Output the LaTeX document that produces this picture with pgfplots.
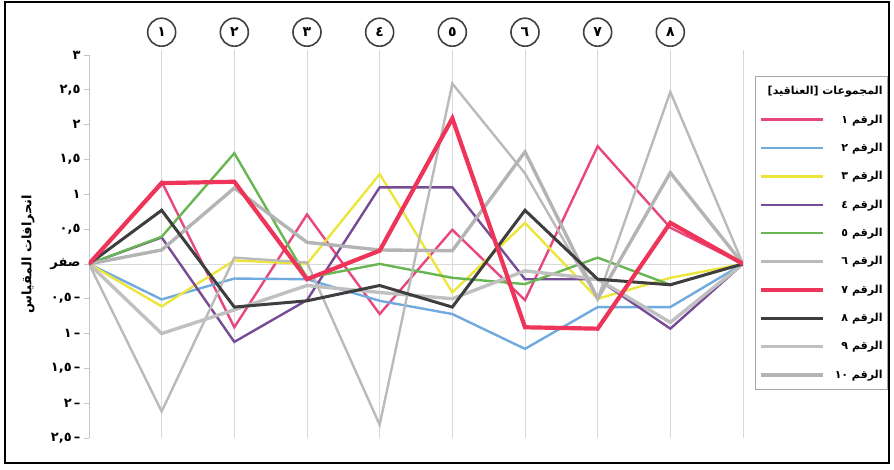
\documentclass[border=0pt]{standalone}
\usepackage{pgfplots}
\pgfplotsset{compat=1.18}
\usepackage{fontspec}
\setmainfont{DejaVu Sans}
\newfontfamily\arabicfont[Script=Arabic]{DejaVu Sans}
\TeXXeTstate=1
\definecolor{cA}{RGB}{232,70,128}
\definecolor{cB}{RGB}{112,170,222}
\definecolor{cC}{RGB}{236,230,60}
\definecolor{cD}{RGB}{118,76,150}
\definecolor{cE}{RGB}{104,182,82}
\definecolor{cF}{RGB}{186,186,186}
\definecolor{cG}{RGB}{238,52,88}
\definecolor{cH}{RGB}{62,62,62}
\definecolor{cI}{RGB}{192,192,192}
\definecolor{cJ}{RGB}{180,180,180}
\pgfplotsset{
  s1/.style={cA, line width=2.4pt},
  s2/.style={cB, line width=2.4pt},
  s3/.style={cC, line width=2.4pt},
  s4/.style={cD, line width=2.4pt},
  s5/.style={cE, line width=2.4pt},
  s6/.style={cF, line width=2.4pt},
  s7/.style={cG, line width=4.2pt},
  s8/.style={cH, line width=3pt},
  s9/.style={cI, line width=3.4pt},
  s10/.style={cJ, line width=3.4pt},
}
\pgfplotstableread{
x s1 s2 s3 s4 s5 s6 s7 s8 s9 s10
0 0 0 0 0 0 0 0 0 0 0
1 1.18 -0.51 -0.61 0.38 0.39 -2.12 1.16 0.77 -1.00 0.20
2 -0.91 -0.21 0.05 -1.12 1.59 0.09 1.18 -0.62 -0.66 1.09
3 0.71 -0.22 0.00 -0.52 -0.20 0.02 -0.22 -0.53 -0.31 0.31
4 -0.72 -0.53 1.29 1.10 0.00 -2.31 0.19 -0.31 -0.41 0.20
5 0.49 -0.72 -0.41 1.10 -0.20 2.59 2.09 -0.62 -0.50 0.19
6 -0.52 -1.22 0.59 -0.22 -0.29 1.30 -0.91 0.77 -0.10 1.61
7 1.69 -0.62 -0.50 -0.22 0.09 -0.50 -0.93 -0.22 -0.22 -0.50
8 0.52 -0.62 -0.20 -0.93 -0.30 2.47 0.59 -0.30 -0.84 1.31
9 0 0 0 0 0 0 0 0 0 0
}\datatable
\newcommand{\af}{\arabicfont\bfseries}
\begin{document}
\begin{tikzpicture}
\useasboundingbox (-89pt,-32pt) rectangle (805pt,438pt);
\draw[line width=2.5pt] (-84pt,-25pt) rectangle (800pt,436pt);
\begin{axis}[
  at={(0pt,0pt)}, anchor=south west,
  scale only axis, width=654pt, height=383pt,
  xmin=0, xmax=9, ymin=-2.5, ymax=3,
  axis y line*=left, axis x line*=top,
  x axis line style={draw=none},
  y axis line style={draw=gray!45, line width=0.8pt},
  tick align=outside, major tick length=5pt,
  xtick={1,2,3,4,5,6,7,8},
  xticklabels={\af ١,\af ٢,\af ٣,\af ٤,\af ٥,\af ٦,\af ٧,\af ٨},
  xticklabel style={circle, draw=black!75, line width=1.6pt, minimum size=28pt, inner sep=0pt, font=\af\fontsize{14}{16}\selectfont, anchor=south, yshift=3pt},
  xtick style={draw=gray!35, line width=0.8pt},
  xmajorgrids,
  grid style={gray!30, line width=0.8pt},
  extra x ticks={9}, extra x tick labels={},
  extra x tick style={grid=major, xticklabel style={draw=none}},
  ytick={-2.5,-2,-1.5,-1,-0.5,0,0.5,1,1.5,2,2.5,3},
  yticklabels={{٢,٥\,–},{٢\,–},{١,٥\,–},{١\,–},{٠,٥\,–},{\beginR صفر\endR},{٠,٥},{١},{١,٥},{٢},{٢,٥},{٣}},
  yticklabel style={font=\af\fontsize{13}{15}\selectfont},
  ytick style={draw=gray!45, line width=0.8pt},
  extra y ticks={0}, extra y tick labels={},
  extra y tick style={grid=major, major tick length=0pt},
  ylabel={\beginR انحرافات المقياس\endR},
  ylabel style={font=\af\fontsize{13}{15}\selectfont, anchor=center, at={(axis description cs:-0.0933,0.48)}},
  legend style={at={(axis description cs:1.2217,0.9452)}, anchor=north east, draw=gray!70, line width=0.8pt, fill=white, font=\af\fontsize{11}{13}\selectfont, row sep=14.5pt, column sep=8pt, inner xsep=3pt, inner ysep=8pt},
  legend cell align=right,
  legend image code/.code={\draw[#1] (0pt,0pt) -- (62pt,0pt);},
]
\addlegendimage{empty legend}\addlegendentry{\makebox[0pt][r]{[العناقيد] المجموعات}}
\addlegendimage{s1}\addlegendentry{\beginR الرقم \beginL١\endL\endR}
\addlegendimage{s2}\addlegendentry{\beginR الرقم \beginL٢\endL\endR}
\addlegendimage{s3}\addlegendentry{\beginR الرقم \beginL٣\endL\endR}
\addlegendimage{s4}\addlegendentry{\beginR الرقم \beginL٤\endL\endR}
\addlegendimage{s5}\addlegendentry{\beginR الرقم \beginL٥\endL\endR}
\addlegendimage{s6}\addlegendentry{\beginR الرقم \beginL٦\endL\endR}
\addlegendimage{s7}\addlegendentry{\beginR الرقم \beginL٧\endL\endR}
\addlegendimage{s8}\addlegendentry{\beginR الرقم \beginL٨\endL\endR}
\addlegendimage{s9}\addlegendentry{\beginR الرقم \beginL٩\endL\endR}
\addlegendimage{s10}\addlegendentry{\rule[-13pt]{0pt}{0pt}\beginR الرقم \beginL١٠\endL\endR}
\addplot[s1, forget plot] table[x=x, y=s1] {\datatable};
\addplot[s2, forget plot] table[x=x, y=s2] {\datatable};
\addplot[s3, forget plot] table[x=x, y=s3] {\datatable};
\addplot[s4, forget plot] table[x=x, y=s4] {\datatable};
\addplot[s5, forget plot] table[x=x, y=s5] {\datatable};
\addplot[s6, forget plot] table[x=x, y=s6] {\datatable};
\addplot[s9, forget plot] table[x=x, y=s9] {\datatable};
\addplot[s10, forget plot] table[x=x, y=s10] {\datatable};
\addplot[s8, forget plot] table[x=x, y=s8] {\datatable};
\addplot[s7, forget plot] table[x=x, y=s7] {\datatable};
\end{axis}
\end{tikzpicture}
\end{document}
